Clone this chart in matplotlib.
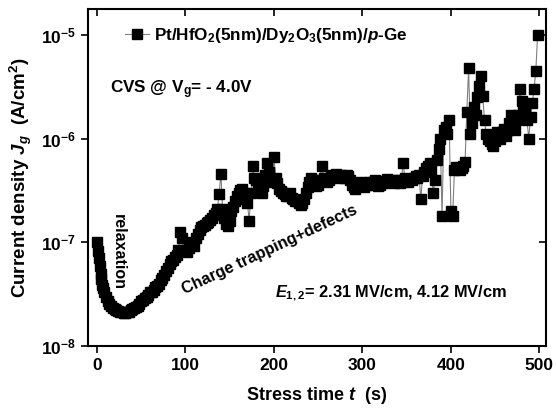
import numpy as np
import matplotlib
matplotlib.use("Agg")
import matplotlib.pyplot as plt
from matplotlib.ticker import LogLocator, LogFormatterSciNotation, NullLocator, FixedLocator

plt.rcParams['font.family'] = ['Liberation Sans', 'DejaVu Sans']
plt.rcParams['font.weight'] = 'bold'
plt.rcParams['mathtext.fontset'] = 'custom'
plt.rcParams['mathtext.rm'] = 'Liberation Sans:bold'
plt.rcParams['mathtext.bf'] = 'Liberation Sans:bold'
plt.rcParams['mathtext.it'] = 'Liberation Sans:italic:bold'
plt.rcParams['mathtext.default'] = 'rm'

# stress time (s), sampled every 2 s
t_main = np.arange(0, 500, 2)
# current density in units of 1e-8 A/cm^2
J_1e8 = [
    10.0, 7.0, 5.0, 3.9, 3.3, 2.95, 2.7, 2.55, 2.45, 2.35,
    2.28, 2.22, 2.17, 2.14, 2.12, 2.1, 2.1, 2.12, 2.15, 2.2,
    2.25, 2.3, 2.38, 2.45, 2.55, 2.7, 2.8, 2.9, 3.0, 3.1,
    3.3, 3.3, 3.5, 3.7, 3.75, 4.0, 4.3, 4.5, 4.8, 5.3,
    5.7, 6.2, 6.6, 6.8, 7.2, 7.6, 8.5, 12.5, 11.0, 8.5,
    8.2, 8.0, 8.8, 9.5, 10.0, 9.3, 11.0, 12.0, 13.0, 14.0,
    14.5, 14.8, 15.5, 15.8, 16.5, 17.0, 18.5, 19.0, 21.0, 29.0,
    46.0, 21.0, 17.0, 15.0, 14.5, 16.0, 20.0, 22.0, 25.0, 28.0,
    30.0, 32.0, 33.0, 30.0, 26.0, 24.0, 16.0, 30.0, 55.0, 42.0,
    40.0, 37.0, 33.0, 30.0, 35.0, 45.0, 58.0, 48.0, 40.0, 38.0,
    66.0, 42.0, 37.0, 33.0, 31.0, 30.0, 29.0, 28.0, 28.0, 30.0,
    27.0, 26.0, 25.0, 25.0, 24.0, 23.0, 24.0, 26.0, 30.0, 34.0,
    38.0, 42.0, 40.0, 37.0, 35.0, 36.0, 40.0, 55.0, 42.0, 40.0,
    38.0, 40.0, 43.0, 45.0, 44.0, 46.0, 44.0, 42.0, 45.0, 43.0,
    42.0, 45.0, 44.0, 40.0, 36.0, 34.0, 33.0, 35.0, 36.0, 38.0,
    37.0, 34.0, 36.0, 37.0, 38.0, 36.0, 38.0, 40.0, 37.0, 35.0,
    36.0, 38.0, 37.0, 39.0, 41.0, 38.0, 40.0, 39.0, 37.0, 38.0,
    40.0, 37.0, 40.0, 58.0, 42.0, 40.0, 38.0, 41.0, 40.0, 42.0,
    44.0, 42.0, 45.0, 26.0, 44.0, 48.0, 52.0, 55.0, 58.0, 50.0,
    30.0, 40.0, 62.0, 80.0, 100.0, 18.0, 120.0, 130.0, 110.0, 150.0,
    20.0, 18.0, 50.0, 53.0, 52.0, 50.0, 52.0, 54.0, 60.0, 180.0,
    480.0, 110.0, 140.0, 200.0, 170.0, 250.0, 320.0, 400.0, 260.0, 150.0,
    110.0, 100.0, 95.0, 88.0, 85.0, 95.0, 115.0, 110.0, 100.0, 115.0,
    125.0, 105.0, 120.0, 140.0, 170.0, 130.0, 120.0, 150.0, 170.0, 300.0,
    230.0, 180.0, 200.0, 150.0, 100.0, 160.0, 220.0, 300.0, 450.0, 1000.0,
]
# extra samples during the fast initial relaxation
t_early = [1, 3, 5, 7]
J_early_1e8 = [8.3, 5.9, 4.4, 3.6]

t_all = np.concatenate([t_main, t_early])
J_all = np.concatenate([J_1e8, J_early_1e8]) * 1e-8
order = np.argsort(t_all, kind='stable')
t = t_all[order]
J = J_all[order]

xticks = [0, 100, 200, 300, 400, 500]

fig = plt.figure(figsize=(5.56, 4.12), dpi=100)
ax = fig.add_axes([88/556, 1-346/412, 458/556, 337/412])

ax.plot(t, J, color='#808080', lw=0.8, marker='s', ms=6.5,
        mfc='black', mec='black', zorder=3,
        label=r'Pt/HfO$_{2}$(5nm)/Dy$_{2}$O$_{3}$(5nm)/$\mathit{p}$-Ge')

ax.set_yscale('log')
ax.set_xlim(-10.2, 507.5)
ax.set_ylim(1e-8, 10**-4.75)
ax.yaxis.set_major_locator(LogLocator(base=10, numticks=10))
ax.yaxis.set_major_formatter(LogFormatterSciNotation())
ax.yaxis.set_minor_locator(NullLocator())
ax.xaxis.set_major_locator(FixedLocator(xticks))

for s in ax.spines.values():
    s.set_linewidth(1.5)
ax.tick_params(axis='both', which='major', labelsize=12.5, width=1.2, length=5)
ax.tick_params(axis='x', direction='out', top=True)
ax.tick_params(axis='y', direction='out', right=True)
for tick in ax.xaxis.get_major_ticks():
    tick.tick2line.set_marker(3)  # TICKDOWN
for tick in ax.yaxis.get_major_ticks():
    tick.tick2line.set_marker(0)  # TICKLEFT

ax.set_xlabel(r'Stress time $\mathit{t}$  (s)', fontsize=13, fontweight='bold', labelpad=9)
ax.set_ylabel(r'Current density $\mathit{J}_{\mathit{g}}$  (A/cm$^{2}$)', fontsize=13.5,
              fontweight='bold', labelpad=5)

leg = ax.legend(loc='upper left', bbox_to_anchor=(0.047, 0.995), frameon=False,
                fontsize=12.3, handlelength=1.4, handletextpad=0.3)

ax.text((110-88)/458, (346-90)/337, r'CVS @ V$_{g}$= - 4.0V', transform=ax.transAxes,
        fontsize=12.3, fontweight='bold', ha='left', va='center')
ax.text((118-88)/458, (346-252)/337, 'relaxation', transform=ax.transAxes,
        fontsize=11.5, fontweight='bold', rotation=-90, ha='center', va='center')
ax.text((270-88)/458, (346-250)/337, 'Charge trapping+defects', transform=ax.transAxes,
        fontsize=11.7, fontweight='bold', rotation=25, ha='center', va='center',
        rotation_mode='anchor')
ax.text((275-88)/458, (346-293)/337, r'$\mathit{E}_{\mathit{1,2}}$= 2.31 MV/cm, 4.12 MV/cm',
        transform=ax.transAxes, fontsize=11.8, fontweight='bold', ha='left', va='center')

fig.savefig('out.png', dpi=100)
